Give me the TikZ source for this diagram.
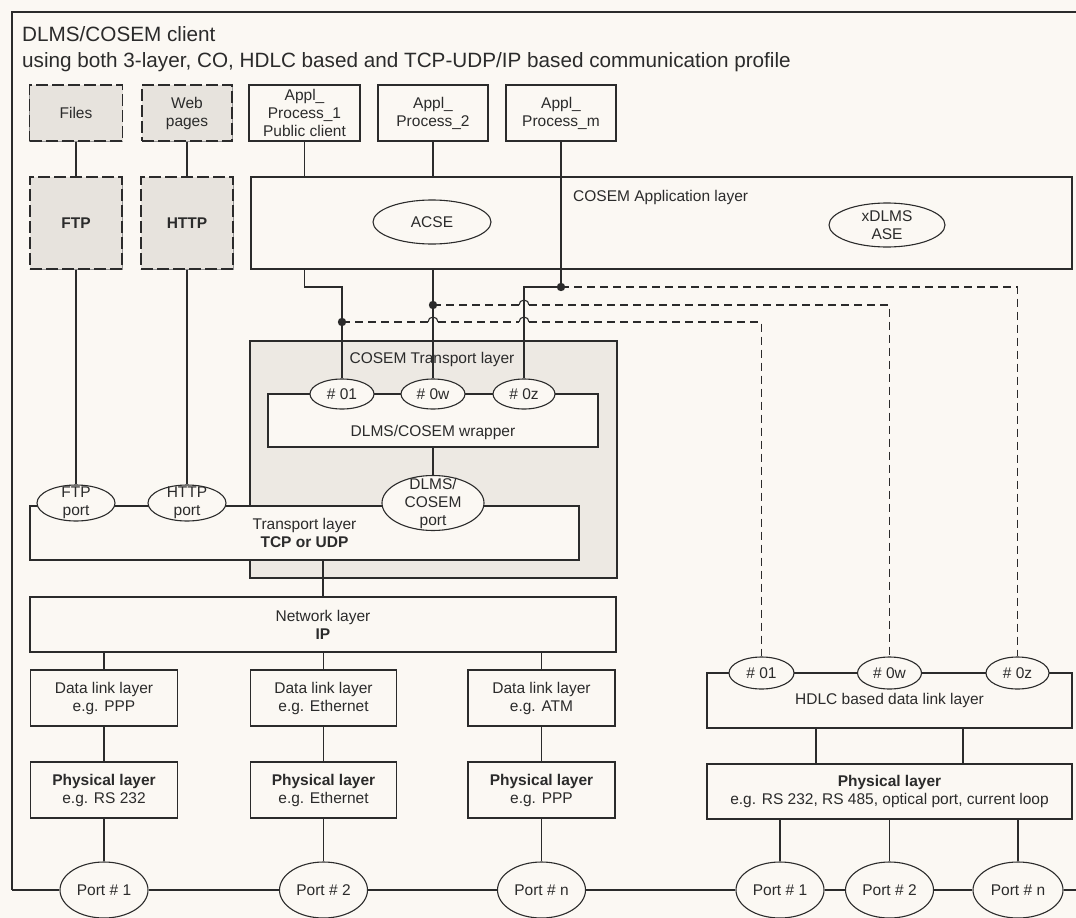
\documentclass[tikz,border=0pt]{standalone}
\usepackage{fontspec}
\setmainfont{Liberation Sans}
\usetikzlibrary{shapes.geometric}
\definecolor{paper}{HTML}{FBF8F3}
\definecolor{ink}{HTML}{2B2B2B}
\definecolor{shadefill}{HTML}{E7E3DD}
\definecolor{tshade}{HTML}{EDE9E3}
\newcommand{\lbl}{\fontsize{15.5}{18}\selectfont}
\newcommand{\ttl}{\fontsize{20.7}{24}\selectfont}
\begin{document}
\begin{tikzpicture}[x=1pt,y=-1pt,
  every node/.style={font=\lbl, text=ink, align=center, inner sep=0pt},
  box/.style={rectangle, draw=ink, line width=1.1pt, fill=paper},
  shadebox/.style={rectangle, fill=shadefill, draw=ink, line width=1.3pt,
    dash pattern=on 12pt off 4pt, preaction={draw=ink!50, line width=0.5pt, solid}},
  oval/.style={ellipse, draw=ink, line width=1.1pt, fill=paper},
  link/.style={draw=ink, line width=1.1pt},
  dline/.style={draw=ink, line width=1.1pt, dash pattern=on 8pt off 5pt},
]
% page and outer frame
\fill[paper] (0,0) rectangle (1076,918);
\useasboundingbox (0,0) rectangle (1076,918);
\coordinate (ftr) at (1076,12);
\coordinate (ftl) at (12,12);
\coordinate (fbl) at (12,890);
\coordinate (fbr) at (1076,890);
\draw[link] (ftr) -- (ftl) -- (fbl);

\node[anchor=base west, font=\ttl] (title1) at (22,41) {DLMS/COSEM client};
\node[anchor=base west, font=\ttl] (title2) at (22,67) {using both 3-layer, CO, HDLC based and TCP-UDP/IP based communication profile};

% web / file services
\node[shadebox, minimum width=93pt, minimum height=56pt] (files) at (76,113) {Files};
\node[shadebox, minimum width=90pt, minimum height=56pt] (web) at (187,113) {Web\\pages};
\node[shadebox, minimum width=92pt, minimum height=92pt, font=\lbl\bfseries] (ftp) at (76,223) {FTP};
\node[shadebox, minimum width=92pt, minimum height=92pt, font=\lbl\bfseries] (http) at (187,223) {HTTP};

% application processes
\node[box, minimum width=111pt, minimum height=56pt] (ap1) at (304.5,113) {Appl\_\\Process\_1\\Public client};
\node[box, minimum width=110pt, minimum height=56pt] (ap2) at (433,113) {Appl\_\\Process\_2};
\node[box, minimum width=110pt, minimum height=56pt] (apm) at (561,113) {Appl\_\\Process\_m};

% COSEM application layer
\node[box, line width=1.5pt, minimum width=821pt, minimum height=92pt] (applayer) at (661.5,223) {};
\node[anchor=west] (applabel) at (573,197) {COSEM Application layer};
\node[oval, minimum width=118pt, minimum height=44pt] (acse) at (432,222) {};
\node (acselbl) at (acse) {ACSE};
\node[oval, minimum width=116pt, minimum height=44pt] (xdlms) at (887,225) {};
\node (xdlmslbl) at (xdlms) {xDLMS\\ASE};

% COSEM transport layer
\node[rectangle, draw=ink, line width=1.1pt, fill=tshade, minimum width=367pt, minimum height=237pt] (tshadebox) at (433.5,459.5) {};
\node (tlabel) at (432,359) {COSEM Transport layer};
\node[box, minimum width=330pt, minimum height=53pt] (wrapper) at (433,420.5) {};
\node (wlabel) at (433,432) {DLMS/COSEM wrapper};
\node[oval, minimum width=64pt, minimum height=30pt] (e01) at (342,394) {\# 01};
\node[oval, minimum width=64pt, minimum height=30pt] (e0w) at (433,394) {\# 0w};
\node[oval, minimum width=62pt, minimum height=30pt] (e0z) at (524,394) {\# 0z};

% transport, network
\node[box, minimum width=549pt, minimum height=54pt] (tcp) at (304.5,533) {Transport layer\\\textbf{TCP or UDP}};
\node[oval, minimum width=78pt, minimum height=36pt] (ftpport) at (76,503) {};
\node (ftpportlbl) at (ftpport) {FTP\\port};
\node[oval, minimum width=78pt, minimum height=36pt] (httpport) at (187,503) {};
\node (httpportlbl) at (httpport) {HTTP\\port};
\node[oval, minimum width=102pt, minimum height=55pt] (dport) at (433,503) {};
\node (dportlbl) at (dport) {DLMS/\\COSEM\\port};
\node[box, minimum width=586pt, minimum height=55pt] (network) at (323,624.5) {Network layer\\\textbf{IP}};

% data link and physical layers, IP side
\node[box, minimum width=147pt, minimum height=56pt] (dl1) at (104,698) {Data link layer\\e.g. PPP};
\node[box, minimum width=147pt, minimum height=56pt] (phy1) at (104,790) {\textbf{Physical layer}\\e.g. RS 232};
\node[box, minimum width=146pt, minimum height=56pt] (dl2) at (323.5,698) {Data link layer\\e.g. Ethernet};
\node[box, minimum width=146pt, minimum height=56pt] (phy2) at (323.5,790) {\textbf{Physical layer}\\e.g. Ethernet};
\node[box, minimum width=147pt, minimum height=56pt] (dl3) at (541.5,698) {Data link layer\\e.g. ATM};
\node[box, minimum width=147pt, minimum height=56pt] (phy3) at (541.5,790) {\textbf{Physical layer}\\e.g. PPP};

% HDLC side
\node[box, minimum width=365pt, minimum height=55pt] (hdlc) at (889.5,700.5) {HDLC based data link layer};
\node[oval, minimum width=65pt, minimum height=32pt] (h01) at (761.5,673) {\# 01};
\node[oval, minimum width=64pt, minimum height=32pt] (h0w) at (889.5,673) {\# 0w};
\node[oval, minimum width=63pt, minimum height=32pt] (h0z) at (1017.5,673) {\# 0z};
\node[box, minimum width=365pt, minimum height=55pt] (hphy) at (889.5,791.5) {\textbf{Physical layer}\\e.g. RS 232, RS 485, optical port, current loop};

% ports
\node[oval, minimum width=88pt, minimum height=56pt] (p1) at (104,890) {Port \# 1};
\node[oval, minimum width=88pt, minimum height=56pt] (p2) at (323.5,890) {Port \# 2};
\node[oval, minimum width=88pt, minimum height=56pt] (pn) at (541.5,890) {Port \# n};
\node[oval, minimum width=88pt, minimum height=56pt] (q1) at (780,890) {Port \# 1};
\node[oval, minimum width=88pt, minimum height=56pt] (q2) at (889.5,890) {Port \# 2};
\node[oval, minimum width=90pt, minimum height=56pt] (qn) at (1018,890) {Port \# n};

% junction points
\coordinate (bendA) at (304.5,287);
\coordinate (dotA) at (342,322);
\coordinate (dotB) at (433,305);
\coordinate (dotC) at (561,287);
\coordinate (bendC) at (524,287);
\coordinate (hx1) at (816,0);
\coordinate (hx2) at (963,0);

% solid connectors
\draw[link] (files) -- (ftp);
\draw[link] (web) -- (http);
\draw[link] (ftp) -- (ftpport);
\draw[link] (http) -- (httpport);
\draw[link] (ap1) -- (ap1 |- applayer.north);
\draw[link] (ap2) -- (ap2 |- applayer.north);
\draw[link] (ap1 |- applayer.south) -- (bendA) -| (e01.north);
\draw[link] (ap2 |- applayer.south) -- (e0w.north);
\draw[link] (apm.south) -- (dotC) -- (bendC) -- (e0z.north);
\draw[link] (wrapper.south) -- (dport.north);
\draw[link] (network.north |- tcp.south) -- (network.north);
\draw[link] (network.south -| dl1.north) -- (dl1.north);
\draw[link] (network.south -| dl2.north) -- (dl2.north);
\draw[link] (network.south -| dl3.north) -- (dl3.north);
\draw[link] (dl1) -- (phy1);
\draw[link] (dl2) -- (phy2);
\draw[link] (dl3) -- (phy3);
\draw[link] (phy1) -- (p1);
\draw[link] (phy2) -- (p2);
\draw[link] (phy3) -- (pn);
\draw[link] (hdlc.south -| hx1) -- (hphy.north -| hx1);
\draw[link] (hdlc.south -| hx2) -- (hphy.north -| hx2);
\draw[link] (hphy.south -| q1.north) -- (q1.north);
\draw[link] (hphy.south -| q2.north) -- (q2.north);
\draw[link] (hphy.south -| qn.north) -- (qn.north);

% port bus
\draw[link] (fbl) -- (p1);
\draw[link] (p1) -- (p2);
\draw[link] (p2) -- (pn);
\draw[link] (pn) -- (q1);
\draw[link] (q1) -- (q2);
\draw[link] (q2) -- (qn);
\draw[link] (qn) -- (fbr);

% dashed links to the HDLC addresses, hopping over solid lines
\draw[dline] (dotC) -- (h0z.north |- dotC) -- (h0z.north);

\draw[dline] (dotB) -- (519,305);
\draw[link] (519,305) arc[start angle=180, end angle=0, radius=5pt];
\draw[dline] (529,305) -- (h0w.north |- dotB) -- (h0w.north);

\draw[dline] (dotA) -- (428,322);
\draw[link] (428,322) arc[start angle=180, end angle=0, radius=5pt];
\draw[dline] (438,322) -- (519,322);
\draw[link] (519,322) arc[start angle=180, end angle=0, radius=5pt];
\draw[dline] (529,322) -- (h01.north |- dotA) -- (h01.north);

% junction dots
\fill[ink] (dotA) circle[radius=4.2pt];
\fill[ink] (dotB) circle[radius=4.2pt];
\fill[ink] (dotC) circle[radius=4.2pt];
\end{tikzpicture}
\end{document}
